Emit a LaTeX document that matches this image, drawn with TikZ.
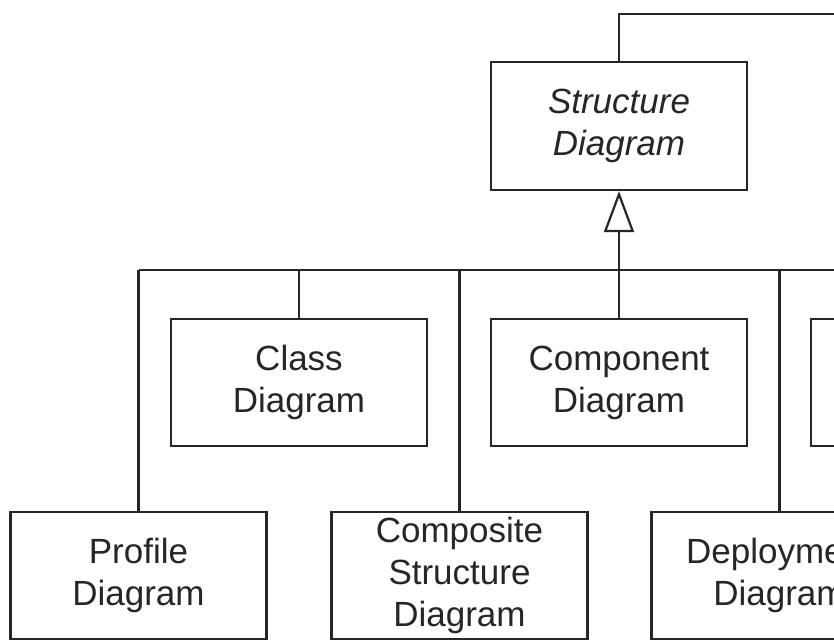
\documentclass[tikz,border=0pt]{standalone}
\usepackage{fontspec}
\setmainfont{Liberation Sans}
\usetikzlibrary{arrows.meta}
\begin{document}
\begin{tikzpicture}[x=1pt,y=-1pt,
  line width=2.2pt, draw=black!85, text=black!85,
  box/.style={draw, rectangle, minimum width=256pt, minimum height=127pt,
    inner sep=0pt, align=center, font=\fontsize{35}{42}\selectfont},
  gen/.style={-{Triangle[open,length=41pt,width=30pt]}}]
\useasboundingbox (0,0) rectangle (834,639);
\clip (0,0) rectangle (834,639);
\fill[white] (0,0) rectangle (834,639);
% nodes
\node[box, minimum height=128pt] (sd) at (619,126) {\itshape Structure\\\itshape Diagram};
\node[box] (cl) at (299,382.5) {Class\\Diagram};
\node[box] (co) at (619,382.5) {Component\\Diagram};
\node[box] (rx) at (939,382.5) {};
\node[box] (pr) at (138.5,575.5) {Profile\\Diagram};
\node[box] (cs) at (459.5,575.5) {Composite\\Structure\\Diagram};
\node[box] (de) at (779.5,575.5) {Deployment\\Diagram};
% coordinates
\coordinate (top) at (619,14);
\coordinate (topr) at (900,14);
\coordinate (busl) at (139,270);
\coordinate (busr) at (900,270);
% top connector
\draw (sd.north) -- (top) -- (topr);
% bus
\draw (busl) -- (busr);
\draw (pr.north) -- (pr.north |- busl);
\draw (cl.north) -- (cl.north |- busl);
\draw (cs.north) -- (cs.north |- busl);
\draw (co.north) -- (co.north |- busl);
\draw (de.north) -- (de.north |- busl);
% generalization
\draw[gen] (sd.south |- busl) -- (sd.south);
\end{tikzpicture}
\end{document}
